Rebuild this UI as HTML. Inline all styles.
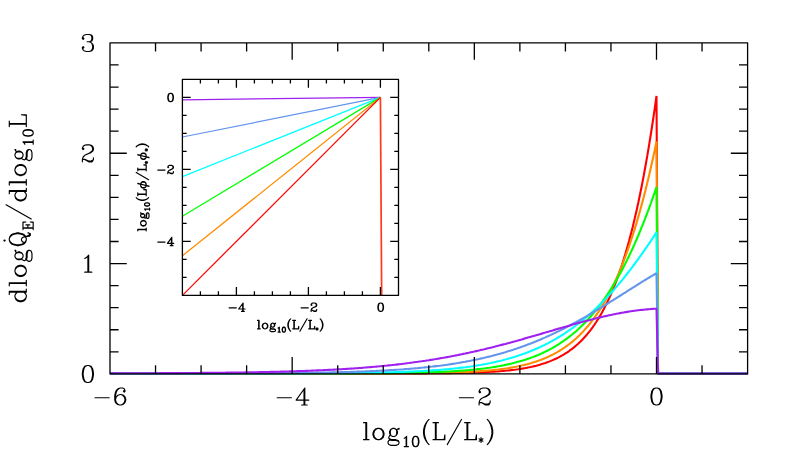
<!DOCTYPE html>
<html><head><meta charset="utf-8"><title>plot</title>
<style>html,body{margin:0;padding:0;background:#fff;font-family:"Liberation Sans",sans-serif;}svg{display:block}</style></head>
<body>
<svg width="789" height="451" viewBox="0 0 789 451">
<rect width="789" height="451" fill="#fff"/>
<polyline fill="none" stroke="#ff0000" stroke-width="2.1" stroke-linejoin="bevel" points="110,373.5 111.82,373.5 113.64,373.5 115.46,373.5 117.29,373.5 119.11,373.5 120.93,373.5 122.75,373.5 124.57,373.5 126.39,373.5 128.22,373.5 130.04,373.5 131.86,373.5 133.68,373.5 135.5,373.5 137.32,373.5 139.15,373.5 140.97,373.5 142.79,373.5 144.61,373.5 146.43,373.5 148.25,373.5 150.08,373.5 151.9,373.5 153.72,373.5 155.54,373.5 157.36,373.5 159.18,373.5 161.01,373.5 162.83,373.5 164.65,373.5 166.47,373.5 168.29,373.5 170.11,373.5 171.94,373.5 173.76,373.5 175.58,373.5 177.4,373.5 179.22,373.5 181.04,373.5 182.87,373.5 184.69,373.5 186.51,373.5 188.33,373.5 190.15,373.5 191.97,373.5 193.8,373.5 195.62,373.5 197.44,373.5 199.26,373.5 201.08,373.5 202.9,373.5 204.73,373.5 206.55,373.5 208.37,373.5 210.19,373.5 212.01,373.5 213.83,373.5 215.66,373.5 217.48,373.5 219.3,373.5 221.12,373.5 222.94,373.5 224.76,373.5 226.59,373.5 228.41,373.5 230.23,373.5 232.05,373.5 233.87,373.5 235.69,373.5 237.52,373.5 239.34,373.5 241.16,373.5 242.98,373.5 244.8,373.5 246.62,373.5 248.45,373.5 250.27,373.5 252.09,373.5 253.91,373.5 255.73,373.5 257.55,373.5 259.38,373.5 261.2,373.5 263.02,373.5 264.84,373.5 266.66,373.5 268.48,373.5 270.31,373.5 272.13,373.5 273.95,373.5 275.77,373.5 277.59,373.5 279.41,373.5 281.24,373.5 283.06,373.5 284.88,373.5 286.7,373.5 288.52,373.5 290.34,373.5 292.17,373.5 293.99,373.5 295.81,373.5 297.63,373.5 299.45,373.5 301.27,373.5 303.1,373.5 304.92,373.5 306.74,373.5 308.56,373.5 310.38,373.5 312.2,373.5 314.03,373.5 315.85,373.5 317.67,373.5 319.49,373.5 321.31,373.5 323.13,373.5 324.96,373.5 326.78,373.5 328.6,373.5 330.42,373.5 332.24,373.5 334.06,373.5 335.89,373.49 337.71,373.49 339.53,373.49 341.35,373.49 343.17,373.49 344.99,373.49 346.82,373.49 348.64,373.49 350.46,373.49 352.28,373.49 354.1,373.49 355.92,373.49 357.75,373.49 359.57,373.49 361.39,373.49 363.21,373.48 365.03,373.48 366.85,373.48 368.68,373.48 370.5,373.48 372.32,373.48 374.14,373.48 375.96,373.48 377.78,373.47 379.61,373.47 381.43,373.47 383.25,373.47 385.07,373.47 386.89,373.46 388.71,373.46 390.54,373.46 392.36,373.45 394.18,373.45 396,373.45 397.82,373.44 399.64,373.44 401.47,373.44 403.29,373.43 405.11,373.43 406.93,373.42 408.75,373.41 410.57,373.41 412.4,373.4 414.22,373.4 416.04,373.39 417.86,373.38 419.68,373.37 421.5,373.36 423.33,373.35 425.15,373.34 426.97,373.33 428.79,373.32 430.61,373.31 432.43,373.29 434.26,373.28 436.08,373.26 437.9,373.25 439.72,373.23 441.54,373.21 443.36,373.19 445.19,373.17 447.01,373.15 448.83,373.12 450.65,373.1 452.47,373.07 454.29,373.04 456.12,373.01 457.94,372.98 459.76,372.94 461.58,372.9 463.4,372.86 465.22,372.82 467.05,372.77 468.87,372.73 470.69,372.67 472.51,372.62 474.33,372.56 476.15,372.5 477.98,372.43 479.8,372.36 481.62,372.28 483.44,372.2 485.26,372.12 487.08,372.02 488.91,371.93 490.73,371.82 492.55,371.71 494.37,371.6 496.19,371.47 498.01,371.34 499.84,371.2 501.66,371.05 503.48,370.89 505.3,370.73 507.12,370.55 508.94,370.36 510.77,370.16 512.59,369.94 514.41,369.72 516.23,369.48 518.05,369.22 519.87,368.95 521.7,368.66 523.52,368.36 525.34,368.04 527.16,367.69 528.98,367.33 530.8,366.95 532.63,366.54 534.45,366.11 536.27,365.65 538.09,365.17 539.91,364.65 541.73,364.11 543.56,363.54 545.38,362.93 547.2,362.29 549.02,361.61 550.84,360.89 552.66,360.13 554.49,359.32 556.31,358.47 558.13,357.58 559.95,356.63 561.77,355.63 563.59,354.57 565.42,353.45 567.24,352.27 569.06,351.02 570.88,349.71 572.7,348.32 574.52,346.86 576.35,345.32 578.17,343.69 579.99,341.98 581.81,340.17 583.63,338.26 585.45,336.25 587.28,334.14 589.1,331.91 590.92,329.57 592.74,327.1 594.56,324.5 596.38,321.77 598.21,318.89 600.03,315.87 601.85,312.68 603.67,309.34 605.49,305.83 607.31,302.13 609.14,298.25 610.96,294.18 612.78,289.89 614.6,285.4 616.42,280.68 618.24,275.73 620.07,270.54 621.89,265.09 623.71,259.38 625.53,253.39 627.35,247.11 629.17,240.53 631,233.64 632.82,226.42 634.64,218.86 636.46,210.95 638.28,202.66 640.1,194 641.93,184.93 643.75,175.45 645.57,165.53 647.39,155.17 649.21,144.34 651.03,133.02 652.86,121.2 654.68,108.86 656.5,95.97 658.05,373.5 747.58,373.5"/>
<polyline fill="none" stroke="#ff8c00" stroke-width="2.1" stroke-linejoin="bevel" points="110,373.5 111.82,373.5 113.64,373.5 115.46,373.5 117.29,373.5 119.11,373.5 120.93,373.5 122.75,373.5 124.57,373.5 126.39,373.5 128.22,373.5 130.04,373.5 131.86,373.5 133.68,373.5 135.5,373.5 137.32,373.5 139.15,373.5 140.97,373.5 142.79,373.5 144.61,373.5 146.43,373.5 148.25,373.5 150.08,373.5 151.9,373.5 153.72,373.5 155.54,373.5 157.36,373.5 159.18,373.5 161.01,373.5 162.83,373.5 164.65,373.5 166.47,373.5 168.29,373.5 170.11,373.5 171.94,373.5 173.76,373.5 175.58,373.5 177.4,373.5 179.22,373.5 181.04,373.5 182.87,373.5 184.69,373.5 186.51,373.5 188.33,373.5 190.15,373.5 191.97,373.5 193.8,373.5 195.62,373.5 197.44,373.5 199.26,373.5 201.08,373.5 202.9,373.5 204.73,373.5 206.55,373.5 208.37,373.5 210.19,373.5 212.01,373.5 213.83,373.5 215.66,373.5 217.48,373.5 219.3,373.5 221.12,373.5 222.94,373.5 224.76,373.5 226.59,373.5 228.41,373.5 230.23,373.5 232.05,373.5 233.87,373.5 235.69,373.5 237.52,373.5 239.34,373.5 241.16,373.5 242.98,373.5 244.8,373.5 246.62,373.5 248.45,373.5 250.27,373.5 252.09,373.5 253.91,373.5 255.73,373.5 257.55,373.5 259.38,373.5 261.2,373.5 263.02,373.5 264.84,373.5 266.66,373.5 268.48,373.5 270.31,373.5 272.13,373.5 273.95,373.5 275.77,373.5 277.59,373.5 279.41,373.5 281.24,373.5 283.06,373.5 284.88,373.5 286.7,373.5 288.52,373.5 290.34,373.5 292.17,373.5 293.99,373.49 295.81,373.49 297.63,373.49 299.45,373.49 301.27,373.49 303.1,373.49 304.92,373.49 306.74,373.49 308.56,373.49 310.38,373.49 312.2,373.49 314.03,373.49 315.85,373.49 317.67,373.49 319.49,373.49 321.31,373.49 323.13,373.49 324.96,373.48 326.78,373.48 328.6,373.48 330.42,373.48 332.24,373.48 334.06,373.48 335.89,373.48 337.71,373.48 339.53,373.48 341.35,373.47 343.17,373.47 344.99,373.47 346.82,373.47 348.64,373.47 350.46,373.46 352.28,373.46 354.1,373.46 355.92,373.46 357.75,373.45 359.57,373.45 361.39,373.45 363.21,373.44 365.03,373.44 366.85,373.44 368.68,373.43 370.5,373.43 372.32,373.43 374.14,373.42 375.96,373.42 377.78,373.41 379.61,373.4 381.43,373.4 383.25,373.39 385.07,373.39 386.89,373.38 388.71,373.37 390.54,373.36 392.36,373.35 394.18,373.35 396,373.34 397.82,373.33 399.64,373.31 401.47,373.3 403.29,373.29 405.11,373.28 406.93,373.26 408.75,373.25 410.57,373.24 412.4,373.22 414.22,373.2 416.04,373.18 417.86,373.16 419.68,373.14 421.5,373.12 423.33,373.1 425.15,373.08 426.97,373.05 428.79,373.02 430.61,373 432.43,372.96 434.26,372.93 436.08,372.9 437.9,372.86 439.72,372.83 441.54,372.79 443.36,372.74 445.19,372.7 447.01,372.65 448.83,372.6 450.65,372.55 452.47,372.49 454.29,372.43 456.12,372.37 457.94,372.31 459.76,372.24 461.58,372.16 463.4,372.09 465.22,372 467.05,371.92 468.87,371.83 470.69,371.73 472.51,371.63 474.33,371.52 476.15,371.41 477.98,371.29 479.8,371.17 481.62,371.04 483.44,370.9 485.26,370.75 487.08,370.6 488.91,370.43 490.73,370.26 492.55,370.08 494.37,369.89 496.19,369.69 498.01,369.48 499.84,369.26 501.66,369.02 503.48,368.78 505.3,368.52 507.12,368.25 508.94,367.96 510.77,367.66 512.59,367.35 514.41,367.01 516.23,366.66 518.05,366.3 519.87,365.91 521.7,365.51 523.52,365.08 525.34,364.63 527.16,364.17 528.98,363.67 530.8,363.16 532.63,362.61 534.45,362.05 536.27,361.45 538.09,360.82 539.91,360.17 541.73,359.48 543.56,358.76 545.38,358 547.2,357.21 549.02,356.38 550.84,355.51 552.66,354.6 554.49,353.65 556.31,352.66 558.13,351.61 559.95,350.52 561.77,349.38 563.59,348.19 565.42,346.94 567.24,345.63 569.06,344.27 570.88,342.84 572.7,341.35 574.52,339.8 576.35,338.17 578.17,336.47 579.99,334.7 581.81,332.85 583.63,330.92 585.45,328.91 587.28,326.81 589.1,324.62 590.92,322.34 592.74,319.96 594.56,317.48 596.38,314.9 598.21,312.21 600.03,309.4 601.85,306.49 603.67,303.45 605.49,300.29 607.31,297 609.14,293.58 610.96,290.02 612.78,286.32 614.6,282.48 616.42,278.49 618.24,274.34 620.07,270.03 621.89,265.55 623.71,260.9 625.53,256.08 627.35,251.08 629.17,245.88 631,240.5 632.82,234.92 634.64,229.13 636.46,223.13 638.28,216.92 640.1,210.48 641.93,203.82 643.75,196.92 645.57,189.78 647.39,182.39 649.21,174.75 651.03,166.85 652.86,158.68 654.68,150.23 656.5,141.51 658.05,373.5 747.58,373.5"/>
<polyline fill="none" stroke="#00ff00" stroke-width="2.1" stroke-linejoin="bevel" points="110,373.5 111.82,373.5 113.64,373.5 115.46,373.5 117.29,373.5 119.11,373.5 120.93,373.5 122.75,373.5 124.57,373.5 126.39,373.5 128.22,373.5 130.04,373.5 131.86,373.5 133.68,373.5 135.5,373.5 137.32,373.5 139.15,373.5 140.97,373.5 142.79,373.5 144.61,373.5 146.43,373.5 148.25,373.5 150.08,373.5 151.9,373.5 153.72,373.5 155.54,373.5 157.36,373.5 159.18,373.5 161.01,373.5 162.83,373.5 164.65,373.5 166.47,373.5 168.29,373.5 170.11,373.5 171.94,373.5 173.76,373.5 175.58,373.5 177.4,373.5 179.22,373.5 181.04,373.5 182.87,373.5 184.69,373.5 186.51,373.5 188.33,373.5 190.15,373.5 191.97,373.5 193.8,373.5 195.62,373.5 197.44,373.5 199.26,373.5 201.08,373.5 202.9,373.5 204.73,373.5 206.55,373.5 208.37,373.5 210.19,373.5 212.01,373.5 213.83,373.5 215.66,373.5 217.48,373.5 219.3,373.5 221.12,373.5 222.94,373.5 224.76,373.5 226.59,373.5 228.41,373.5 230.23,373.5 232.05,373.5 233.87,373.5 235.69,373.5 237.52,373.5 239.34,373.49 241.16,373.49 242.98,373.49 244.8,373.49 246.62,373.49 248.45,373.49 250.27,373.49 252.09,373.49 253.91,373.49 255.73,373.49 257.55,373.49 259.38,373.49 261.2,373.49 263.02,373.49 264.84,373.49 266.66,373.49 268.48,373.49 270.31,373.49 272.13,373.49 273.95,373.49 275.77,373.48 277.59,373.48 279.41,373.48 281.24,373.48 283.06,373.48 284.88,373.48 286.7,373.48 288.52,373.48 290.34,373.48 292.17,373.48 293.99,373.47 295.81,373.47 297.63,373.47 299.45,373.47 301.27,373.47 303.1,373.47 304.92,373.46 306.74,373.46 308.56,373.46 310.38,373.46 312.2,373.46 314.03,373.45 315.85,373.45 317.67,373.45 319.49,373.44 321.31,373.44 323.13,373.44 324.96,373.44 326.78,373.43 328.6,373.43 330.42,373.42 332.24,373.42 334.06,373.42 335.89,373.41 337.71,373.41 339.53,373.4 341.35,373.4 343.17,373.39 344.99,373.38 346.82,373.38 348.64,373.37 350.46,373.36 352.28,373.36 354.1,373.35 355.92,373.34 357.75,373.33 359.57,373.32 361.39,373.31 363.21,373.3 365.03,373.29 366.85,373.28 368.68,373.27 370.5,373.26 372.32,373.25 374.14,373.23 375.96,373.22 377.78,373.2 379.61,373.19 381.43,373.17 383.25,373.15 385.07,373.14 386.89,373.12 388.71,373.1 390.54,373.08 392.36,373.05 394.18,373.03 396,373.01 397.82,372.98 399.64,372.95 401.47,372.93 403.29,372.9 405.11,372.87 406.93,372.83 408.75,372.8 410.57,372.76 412.4,372.72 414.22,372.68 416.04,372.64 417.86,372.6 419.68,372.55 421.5,372.51 423.33,372.46 425.15,372.4 426.97,372.35 428.79,372.29 430.61,372.23 432.43,372.16 434.26,372.1 436.08,372.03 437.9,371.95 439.72,371.88 441.54,371.8 443.36,371.71 445.19,371.63 447.01,371.53 448.83,371.44 450.65,371.34 452.47,371.23 454.29,371.12 456.12,371 457.94,370.88 459.76,370.75 461.58,370.62 463.4,370.48 465.22,370.34 467.05,370.19 468.87,370.03 470.69,369.86 472.51,369.69 474.33,369.51 476.15,369.32 477.98,369.12 479.8,368.92 481.62,368.7 483.44,368.48 485.26,368.25 487.08,368 488.91,367.75 490.73,367.48 492.55,367.2 494.37,366.91 496.19,366.61 498.01,366.3 499.84,365.97 501.66,365.63 503.48,365.27 505.3,364.9 507.12,364.52 508.94,364.11 510.77,363.7 512.59,363.26 514.41,362.81 516.23,362.33 518.05,361.84 519.87,361.33 521.7,360.8 523.52,360.25 525.34,359.67 527.16,359.07 528.98,358.45 530.8,357.8 532.63,357.13 534.45,356.44 536.27,355.71 538.09,354.96 539.91,354.18 541.73,353.37 543.56,352.53 545.38,351.66 547.2,350.75 549.02,349.81 550.84,348.84 552.66,347.83 554.49,346.78 556.31,345.7 558.13,344.57 559.95,343.41 561.77,342.21 563.59,340.96 565.42,339.67 567.24,338.33 569.06,336.94 570.88,335.51 572.7,334.03 574.52,332.5 576.35,330.92 578.17,329.28 579.99,327.59 581.81,325.84 583.63,324.04 585.45,322.17 587.28,320.25 589.1,318.26 590.92,316.22 592.74,314.1 594.56,311.92 596.38,309.67 598.21,307.35 600.03,304.96 601.85,302.5 603.67,299.96 605.49,297.35 607.31,294.66 609.14,291.89 610.96,289.04 612.78,286.1 614.6,283.09 616.42,279.99 618.24,276.8 620.07,273.52 621.89,270.15 623.71,266.69 625.53,263.13 627.35,259.48 629.17,255.74 631,251.9 632.82,247.95 634.64,243.91 636.46,239.76 638.28,235.51 640.1,231.16 641.93,226.7 643.75,222.13 645.57,217.46 647.39,212.67 649.21,207.77 651.03,202.76 652.86,197.64 654.68,192.4 656.5,187.05 658.05,373.5 747.58,373.5"/>
<polyline fill="none" stroke="#00ffff" stroke-width="2.1" stroke-linejoin="bevel" points="110,373.5 111.82,373.5 113.64,373.5 115.46,373.5 117.29,373.5 119.11,373.5 120.93,373.5 122.75,373.5 124.57,373.5 126.39,373.5 128.22,373.5 130.04,373.5 131.86,373.5 133.68,373.5 135.5,373.5 137.32,373.5 139.15,373.5 140.97,373.5 142.79,373.5 144.61,373.5 146.43,373.5 148.25,373.5 150.08,373.5 151.9,373.5 153.72,373.5 155.54,373.5 157.36,373.5 159.18,373.5 161.01,373.5 162.83,373.5 164.65,373.49 166.47,373.49 168.29,373.49 170.11,373.49 171.94,373.49 173.76,373.49 175.58,373.49 177.4,373.49 179.22,373.49 181.04,373.49 182.87,373.49 184.69,373.49 186.51,373.49 188.33,373.49 190.15,373.49 191.97,373.49 193.8,373.49 195.62,373.49 197.44,373.49 199.26,373.49 201.08,373.49 202.9,373.49 204.73,373.49 206.55,373.49 208.37,373.48 210.19,373.48 212.01,373.48 213.83,373.48 215.66,373.48 217.48,373.48 219.3,373.48 221.12,373.48 222.94,373.48 224.76,373.48 226.59,373.48 228.41,373.48 230.23,373.47 232.05,373.47 233.87,373.47 235.69,373.47 237.52,373.47 239.34,373.47 241.16,373.47 242.98,373.46 244.8,373.46 246.62,373.46 248.45,373.46 250.27,373.46 252.09,373.46 253.91,373.45 255.73,373.45 257.55,373.45 259.38,373.45 261.2,373.44 263.02,373.44 264.84,373.44 266.66,373.44 268.48,373.43 270.31,373.43 272.13,373.43 273.95,373.42 275.77,373.42 277.59,373.42 279.41,373.41 281.24,373.41 283.06,373.41 284.88,373.4 286.7,373.4 288.52,373.39 290.34,373.39 292.17,373.38 293.99,373.38 295.81,373.37 297.63,373.36 299.45,373.36 301.27,373.35 303.1,373.35 304.92,373.34 306.74,373.33 308.56,373.32 310.38,373.32 312.2,373.31 314.03,373.3 315.85,373.29 317.67,373.28 319.49,373.27 321.31,373.26 323.13,373.25 324.96,373.24 326.78,373.23 328.6,373.21 330.42,373.2 332.24,373.19 334.06,373.17 335.89,373.16 337.71,373.14 339.53,373.13 341.35,373.11 343.17,373.09 344.99,373.08 346.82,373.06 348.64,373.04 350.46,373.02 352.28,373 354.1,372.97 355.92,372.95 357.75,372.93 359.57,372.9 361.39,372.87 363.21,372.85 365.03,372.82 366.85,372.79 368.68,372.76 370.5,372.73 372.32,372.69 374.14,372.66 375.96,372.62 377.78,372.58 379.61,372.54 381.43,372.5 383.25,372.46 385.07,372.41 386.89,372.37 388.71,372.32 390.54,372.27 392.36,372.22 394.18,372.16 396,372.11 397.82,372.05 399.64,371.99 401.47,371.92 403.29,371.86 405.11,371.79 406.93,371.72 408.75,371.64 410.57,371.56 412.4,371.48 414.22,371.4 416.04,371.31 417.86,371.22 419.68,371.13 421.5,371.03 423.33,370.93 425.15,370.82 426.97,370.72 428.79,370.6 430.61,370.48 432.43,370.36 434.26,370.24 436.08,370.1 437.9,369.97 439.72,369.83 441.54,369.68 443.36,369.53 445.19,369.37 447.01,369.21 448.83,369.04 450.65,368.86 452.47,368.68 454.29,368.49 456.12,368.29 457.94,368.09 459.76,367.88 461.58,367.66 463.4,367.44 465.22,367.21 467.05,366.97 468.87,366.72 470.69,366.46 472.51,366.19 474.33,365.91 476.15,365.63 477.98,365.33 479.8,365.03 481.62,364.71 483.44,364.38 485.26,364.05 487.08,363.7 488.91,363.34 490.73,362.97 492.55,362.58 494.37,362.19 496.19,361.78 498.01,361.35 499.84,360.92 501.66,360.47 503.48,360 505.3,359.52 507.12,359.03 508.94,358.52 510.77,358 512.59,357.45 514.41,356.9 516.23,356.32 518.05,355.73 519.87,355.12 521.7,354.49 523.52,353.85 525.34,353.18 527.16,352.5 528.98,351.79 530.8,351.07 532.63,350.33 534.45,349.56 536.27,348.77 538.09,347.96 539.91,347.13 541.73,346.28 543.56,345.4 545.38,344.5 547.2,343.58 549.02,342.63 550.84,341.65 552.66,340.65 554.49,339.63 556.31,338.58 558.13,337.5 559.95,336.39 561.77,335.26 563.59,334.1 565.42,332.91 567.24,331.69 569.06,330.45 570.88,329.17 572.7,327.86 574.52,326.53 576.35,325.16 578.17,323.76 579.99,322.34 581.81,320.88 583.63,319.38 585.45,317.86 587.28,316.3 589.1,314.71 590.92,313.09 592.74,311.44 594.56,309.75 596.38,308.02 598.21,306.27 600.03,304.48 601.85,302.65 603.67,300.79 605.49,298.9 607.31,296.97 609.14,295.01 610.96,293.01 612.78,290.98 614.6,288.92 616.42,286.82 618.24,284.68 620.07,282.51 621.89,280.31 623.71,278.07 625.53,275.8 627.35,273.5 629.17,271.16 631,268.79 632.82,266.38 634.64,263.95 636.46,261.48 638.28,258.98 640.1,256.45 641.93,253.89 643.75,251.29 645.57,248.67 647.39,246.02 649.21,243.35 651.03,240.64 652.86,237.91 654.68,235.15 656.5,232.37 658.05,373.5 747.58,373.5"/>
<polyline fill="none" stroke="#6495ed" stroke-width="2.1" stroke-linejoin="bevel" points="110,373.48 111.82,373.48 113.64,373.48 115.46,373.48 117.29,373.48 119.11,373.48 120.93,373.48 122.75,373.48 124.57,373.48 126.39,373.48 128.22,373.48 130.04,373.48 131.86,373.48 133.68,373.48 135.5,373.47 137.32,373.47 139.15,373.47 140.97,373.47 142.79,373.47 144.61,373.47 146.43,373.47 148.25,373.47 150.08,373.47 151.9,373.47 153.72,373.46 155.54,373.46 157.36,373.46 159.18,373.46 161.01,373.46 162.83,373.46 164.65,373.46 166.47,373.45 168.29,373.45 170.11,373.45 171.94,373.45 173.76,373.45 175.58,373.45 177.4,373.44 179.22,373.44 181.04,373.44 182.87,373.44 184.69,373.43 186.51,373.43 188.33,373.43 190.15,373.43 191.97,373.43 193.8,373.42 195.62,373.42 197.44,373.42 199.26,373.41 201.08,373.41 202.9,373.41 204.73,373.4 206.55,373.4 208.37,373.4 210.19,373.39 212.01,373.39 213.83,373.39 215.66,373.38 217.48,373.38 219.3,373.37 221.12,373.37 222.94,373.36 224.76,373.36 226.59,373.35 228.41,373.35 230.23,373.34 232.05,373.34 233.87,373.33 235.69,373.32 237.52,373.32 239.34,373.31 241.16,373.3 242.98,373.3 244.8,373.29 246.62,373.28 248.45,373.27 250.27,373.27 252.09,373.26 253.91,373.25 255.73,373.24 257.55,373.23 259.38,373.22 261.2,373.21 263.02,373.2 264.84,373.19 266.66,373.18 268.48,373.17 270.31,373.15 272.13,373.14 273.95,373.13 275.77,373.11 277.59,373.1 279.41,373.09 281.24,373.07 283.06,373.06 284.88,373.04 286.7,373.02 288.52,373.01 290.34,372.99 292.17,372.97 293.99,372.95 295.81,372.93 297.63,372.91 299.45,372.89 301.27,372.87 303.1,372.84 304.92,372.82 306.74,372.8 308.56,372.77 310.38,372.75 312.2,372.72 314.03,372.69 315.85,372.66 317.67,372.63 319.49,372.6 321.31,372.57 323.13,372.54 324.96,372.5 326.78,372.47 328.6,372.43 330.42,372.39 332.24,372.36 334.06,372.31 335.89,372.27 337.71,372.23 339.53,372.19 341.35,372.14 343.17,372.09 344.99,372.04 346.82,371.99 348.64,371.94 350.46,371.89 352.28,371.83 354.1,371.77 355.92,371.71 357.75,371.65 359.57,371.59 361.39,371.52 363.21,371.46 365.03,371.39 366.85,371.31 368.68,371.24 370.5,371.16 372.32,371.08 374.14,371 375.96,370.92 377.78,370.83 379.61,370.74 381.43,370.65 383.25,370.56 385.07,370.46 386.89,370.36 388.71,370.25 390.54,370.14 392.36,370.03 394.18,369.92 396,369.8 397.82,369.68 399.64,369.56 401.47,369.43 403.29,369.3 405.11,369.16 406.93,369.02 408.75,368.88 410.57,368.73 412.4,368.57 414.22,368.42 416.04,368.25 417.86,368.09 419.68,367.92 421.5,367.74 423.33,367.56 425.15,367.37 426.97,367.18 428.79,366.99 430.61,366.78 432.43,366.58 434.26,366.36 436.08,366.14 437.9,365.92 439.72,365.69 441.54,365.45 443.36,365.2 445.19,364.95 447.01,364.7 448.83,364.43 450.65,364.16 452.47,363.88 454.29,363.6 456.12,363.31 457.94,363.01 459.76,362.7 461.58,362.39 463.4,362.06 465.22,361.73 467.05,361.39 468.87,361.05 470.69,360.69 472.51,360.33 474.33,359.95 476.15,359.57 477.98,359.18 479.8,358.78 481.62,358.37 483.44,357.96 485.26,357.53 487.08,357.09 488.91,356.64 490.73,356.19 492.55,355.72 494.37,355.24 496.19,354.76 498.01,354.26 499.84,353.75 501.66,353.23 503.48,352.7 505.3,352.16 507.12,351.61 508.94,351.05 510.77,350.47 512.59,349.89 514.41,349.29 516.23,348.68 518.05,348.06 519.87,347.43 521.7,346.79 523.52,346.14 525.34,345.47 527.16,344.79 528.98,344.1 530.8,343.4 532.63,342.68 534.45,341.96 536.27,341.22 538.09,340.47 539.91,339.71 541.73,338.93 543.56,338.14 545.38,337.35 547.2,336.53 549.02,335.71 550.84,334.88 552.66,334.03 554.49,333.17 556.31,332.3 558.13,331.42 559.95,330.52 561.77,329.62 563.59,328.7 565.42,327.77 567.24,326.83 569.06,325.88 570.88,324.92 572.7,323.95 574.52,322.96 576.35,321.97 578.17,320.97 579.99,319.95 581.81,318.93 583.63,317.9 585.45,316.86 587.28,315.8 589.1,314.75 590.92,313.68 592.74,312.6 594.56,311.52 596.38,310.43 598.21,309.33 600.03,308.22 601.85,307.11 603.67,305.99 605.49,304.87 607.31,303.74 609.14,302.61 610.96,301.47 612.78,300.33 614.6,299.19 616.42,298.04 618.24,296.89 620.07,295.74 621.89,294.59 623.71,293.43 625.53,292.28 627.35,291.13 629.17,289.97 631,288.82 632.82,287.67 634.64,286.52 636.46,285.38 638.28,284.24 640.1,283.1 641.93,281.97 643.75,280.85 645.57,279.73 647.39,278.62 649.21,277.51 651.03,276.41 652.86,275.33 654.68,274.25 656.5,273.18 658.05,373.5 747.58,373.5"/>
<polyline fill="none" stroke="#a020f0" stroke-width="2.1" stroke-linejoin="bevel" points="110,373.34 111.82,373.33 113.64,373.33 115.46,373.32 117.29,373.32 119.11,373.32 120.93,373.31 122.75,373.31 124.57,373.3 126.39,373.3 128.22,373.29 130.04,373.29 131.86,373.28 133.68,373.28 135.5,373.27 137.32,373.26 139.15,373.26 140.97,373.25 142.79,373.25 144.61,373.24 146.43,373.23 148.25,373.23 150.08,373.22 151.9,373.21 153.72,373.21 155.54,373.2 157.36,373.19 159.18,373.18 161.01,373.17 162.83,373.17 164.65,373.16 166.47,373.15 168.29,373.14 170.11,373.13 171.94,373.12 173.76,373.11 175.58,373.1 177.4,373.09 179.22,373.08 181.04,373.07 182.87,373.06 184.69,373.04 186.51,373.03 188.33,373.02 190.15,373.01 191.97,372.99 193.8,372.98 195.62,372.97 197.44,372.95 199.26,372.94 201.08,372.92 202.9,372.91 204.73,372.89 206.55,372.88 208.37,372.86 210.19,372.84 212.01,372.82 213.83,372.81 215.66,372.79 217.48,372.77 219.3,372.75 221.12,372.73 222.94,372.71 224.76,372.69 226.59,372.66 228.41,372.64 230.23,372.62 232.05,372.6 233.87,372.57 235.69,372.55 237.52,372.52 239.34,372.49 241.16,372.47 242.98,372.44 244.8,372.41 246.62,372.38 248.45,372.35 250.27,372.32 252.09,372.29 253.91,372.26 255.73,372.22 257.55,372.19 259.38,372.15 261.2,372.12 263.02,372.08 264.84,372.04 266.66,372 268.48,371.96 270.31,371.92 272.13,371.88 273.95,371.84 275.77,371.79 277.59,371.75 279.41,371.7 281.24,371.65 283.06,371.6 284.88,371.55 286.7,371.5 288.52,371.45 290.34,371.39 292.17,371.34 293.99,371.28 295.81,371.22 297.63,371.16 299.45,371.1 301.27,371.04 303.1,370.97 304.92,370.91 306.74,370.84 308.56,370.77 310.38,370.7 312.2,370.62 314.03,370.55 315.85,370.47 317.67,370.39 319.49,370.31 321.31,370.23 323.13,370.15 324.96,370.06 326.78,369.97 328.6,369.88 330.42,369.79 332.24,369.69 334.06,369.59 335.89,369.49 337.71,369.39 339.53,369.29 341.35,369.18 343.17,369.07 344.99,368.96 346.82,368.84 348.64,368.72 350.46,368.6 352.28,368.48 354.1,368.36 355.92,368.23 357.75,368.1 359.57,367.96 361.39,367.83 363.21,367.69 365.03,367.54 366.85,367.4 368.68,367.25 370.5,367.09 372.32,366.94 374.14,366.78 375.96,366.62 377.78,366.45 379.61,366.28 381.43,366.11 383.25,365.93 385.07,365.75 386.89,365.57 388.71,365.38 390.54,365.19 392.36,364.99 394.18,364.79 396,364.59 397.82,364.38 399.64,364.17 401.47,363.95 403.29,363.73 405.11,363.51 406.93,363.28 408.75,363.05 410.57,362.81 412.4,362.57 414.22,362.32 416.04,362.07 417.86,361.82 419.68,361.56 421.5,361.3 423.33,361.03 425.15,360.76 426.97,360.48 428.79,360.2 430.61,359.91 432.43,359.62 434.26,359.32 436.08,359.02 437.9,358.71 439.72,358.4 441.54,358.08 443.36,357.76 445.19,357.43 447.01,357.1 448.83,356.77 450.65,356.42 452.47,356.08 454.29,355.73 456.12,355.37 457.94,355.01 459.76,354.64 461.58,354.27 463.4,353.89 465.22,353.51 467.05,353.12 468.87,352.73 470.69,352.33 472.51,351.93 474.33,351.53 476.15,351.11 477.98,350.7 479.8,350.28 481.62,349.85 483.44,349.42 485.26,348.98 487.08,348.54 488.91,348.1 490.73,347.65 492.55,347.2 494.37,346.74 496.19,346.27 498.01,345.81 499.84,345.34 501.66,344.86 503.48,344.38 505.3,343.9 507.12,343.41 508.94,342.92 510.77,342.43 512.59,341.93 514.41,341.43 516.23,340.93 518.05,340.42 519.87,339.91 521.7,339.4 523.52,338.88 525.34,338.36 527.16,337.84 528.98,337.32 530.8,336.8 532.63,336.27 534.45,335.74 536.27,335.21 538.09,334.68 539.91,334.15 541.73,333.62 543.56,333.08 545.38,332.55 547.2,332.01 549.02,331.48 550.84,330.94 552.66,330.41 554.49,329.87 556.31,329.34 558.13,328.81 559.95,328.28 561.77,327.75 563.59,327.22 565.42,326.69 567.24,326.17 569.06,325.65 570.88,325.13 572.7,324.61 574.52,324.1 576.35,323.59 578.17,323.09 579.99,322.58 581.81,322.09 583.63,321.59 585.45,321.11 587.28,320.62 589.1,320.15 590.92,319.67 592.74,319.21 594.56,318.75 596.38,318.3 598.21,317.85 600.03,317.41 601.85,316.98 603.67,316.55 605.49,316.14 607.31,315.73 609.14,315.33 610.96,314.94 612.78,314.56 614.6,314.18 616.42,313.82 618.24,313.47 620.07,313.12 621.89,312.79 623.71,312.47 625.53,312.15 627.35,311.85 629.17,311.56 631,311.29 632.82,311.02 634.64,310.76 636.46,310.52 638.28,310.29 640.1,310.07 641.93,309.87 643.75,309.68 645.57,309.5 647.39,309.33 649.21,309.18 651.03,309.04 652.86,308.92 654.68,308.81 656.5,308.71 658.05,373.5 747.58,373.5"/>
<path d="M155.54 373.9V365.3 M155.54 42.9V51.5 M201.08 373.9V365.3 M201.08 42.9V51.5 M246.62 373.9V365.3 M246.62 42.9V51.5 M292.17 373.9V357.1 M292.17 42.9V59.7 M337.71 373.9V365.3 M337.71 42.9V51.5 M383.25 373.9V365.3 M383.25 42.9V51.5 M428.79 373.9V365.3 M428.79 42.9V51.5 M474.33 373.9V357.1 M474.33 42.9V59.7 M519.88 373.9V365.3 M519.88 42.9V51.5 M565.42 373.9V365.3 M565.42 42.9V51.5 M610.96 373.9V365.3 M610.96 42.9V51.5 M656.5 373.9V357.1 M656.5 42.9V59.7 M702.04 373.9V365.3 M702.04 42.9V51.5 M110 351.83H118.6 M747.6 351.83H739 M110 329.77H118.6 M747.6 329.77H739 M110 307.7H118.6 M747.6 307.7H739 M110 285.63H118.6 M747.6 285.63H739 M110 263.57H126.8 M747.6 263.57H730.8 M110 241.5H118.6 M747.6 241.5H739 M110 219.43H118.6 M747.6 219.43H739 M110 197.37H118.6 M747.6 197.37H739 M110 175.3H118.6 M747.6 175.3H739 M110 153.23H126.8 M747.6 153.23H730.8 M110 131.17H118.6 M747.6 131.17H739 M110 109.1H118.6 M747.6 109.1H739 M110 87.03H118.6 M747.6 87.03H739 M110 64.97H118.6 M747.6 64.97H739" stroke="#000" stroke-width="1.3" fill="none" stroke-linejoin="round"/>
<rect x="110" y="42.9" width="637.6" height="331" stroke="#000" stroke-width="1.3" fill="none" stroke-linejoin="round"/>
<rect x="182.4" y="79.4" width="216.1" height="216" fill="#fff" stroke="none"/>
<clipPath id="ic"><rect x="182.4" y="79.4" width="216.1" height="216"/></clipPath>
<g clip-path="url(#ic)">
<polyline fill="none" stroke="#a020f0" stroke-width="1.25" points="182.4,99.88 380.4,97.4"/>
<polyline fill="none" stroke="#6495ed" stroke-width="1.25" points="182.4,137 380.4,97.4"/>
<polyline fill="none" stroke="#00ffff" stroke-width="1.25" points="182.4,176.6 380.4,97.4"/>
<polyline fill="none" stroke="#00ff00" stroke-width="1.25" points="182.4,216.2 380.4,97.4"/>
<polyline fill="none" stroke="#ff8c00" stroke-width="1.25" points="182.4,255.8 380.4,97.4"/>
<polyline fill="none" stroke="#ff0000" stroke-width="1.25" points="182.4,295.4 380.4,97.4"/>
<path d="M380.4 97.4L381.66 295.9" stroke="#ff3a1a" stroke-width="1.7" fill="none"/>
</g>
<path d="M200.4 295.4V291.2 M200.4 79.4V83.6 M182.4 277.4H186.6 M398.5 277.4H394.3 M218.4 295.4V291.2 M218.4 79.4V83.6 M182.4 259.4H186.6 M398.5 259.4H394.3 M236.4 295.4V287.1 M236.4 79.4V87.7 M182.4 241.4H190.7 M398.5 241.4H390.2 M254.4 295.4V291.2 M254.4 79.4V83.6 M182.4 223.4H186.6 M398.5 223.4H394.3 M272.4 295.4V291.2 M272.4 79.4V83.6 M182.4 205.4H186.6 M398.5 205.4H394.3 M290.4 295.4V291.2 M290.4 79.4V83.6 M182.4 187.4H186.6 M398.5 187.4H394.3 M308.4 295.4V287.1 M308.4 79.4V87.7 M182.4 169.4H190.7 M398.5 169.4H390.2 M326.4 295.4V291.2 M326.4 79.4V83.6 M182.4 151.4H186.6 M398.5 151.4H394.3 M344.4 295.4V291.2 M344.4 79.4V83.6 M182.4 133.4H186.6 M398.5 133.4H394.3 M362.4 295.4V291.2 M362.4 79.4V83.6 M182.4 115.4H186.6 M398.5 115.4H394.3 M380.4 295.4V287.1 M380.4 79.4V87.7 M182.4 97.4H190.7 M398.5 97.4H390.2" stroke="#000" stroke-width="1.3" fill="none" stroke-linejoin="round"/>
<rect x="182.4" y="79.4" width="216.1" height="216" stroke="#000" stroke-width="1.3" fill="none" stroke-linejoin="round"/>
<g transform="translate(110 405) scale(0.79 0.81) translate(-23 0)"><path d="M4 -9 L22 -9 M41 -18 L40 -17 L41 -16 L42 -17 L42 -18 L41 -20 L39 -21 L36 -21 L33 -20 L31 -18 L30 -16 L29 -12 L29 -6 L30 -3 L32 -1 L35 0 L37 0 L40 -1 L42 -3 L43 -6 L43 -7 L42 -10 L40 -12 L37 -13 L36 -13 L33 -12 L31 -10 L30 -7 M36 -21 L34 -20 L32 -18 L31 -16 L30 -12 L30 -6 L31 -3 L33 -1 L35 0 M37 0 L39 -1 L41 -3 L42 -6 L42 -7 L41 -10 L39 -12 L37 -13" fill="none" stroke="#000" stroke-width="1.43" stroke-linecap="round" stroke-linejoin="round"/></g>
<g transform="translate(292.17 405) scale(0.79 0.81) translate(-23 0)"><path d="M4 -9 L22 -9 M38 -19 L38 0 M39 -21 L39 0 M39 -21 L28 -6 L44 -6 M35 0 L42 0" fill="none" stroke="#000" stroke-width="1.43" stroke-linecap="round" stroke-linejoin="round"/></g>
<g transform="translate(474.33 405) scale(0.79 0.81) translate(-23 0)"><path d="M4 -9 L22 -9 M30 -17 L31 -16 L30 -15 L29 -16 L29 -17 L30 -19 L31 -20 L34 -21 L38 -21 L41 -20 L42 -19 L43 -17 L43 -15 L42 -13 L39 -11 L34 -9 L32 -8 L30 -6 L29 -3 L29 0 M38 -21 L40 -20 L41 -19 L42 -17 L42 -15 L41 -13 L38 -11 L34 -9 M29 -2 L30 -3 L32 -3 L37 -1 L40 -1 L42 -2 L43 -3 M32 -3 L37 0 L41 0 L42 -1 L43 -3 L43 -5" fill="none" stroke="#000" stroke-width="1.43" stroke-linecap="round" stroke-linejoin="round"/></g>
<g transform="translate(656.5 405) scale(0.79 0.81) translate(-10 0)"><path d="M9 -21 L6 -20 L4 -17 L3 -12 L3 -9 L4 -4 L6 -1 L9 0 L11 0 L14 -1 L16 -4 L17 -9 L17 -12 L16 -17 L14 -20 L11 -21 L9 -21 M9 -21 L7 -20 L6 -19 L5 -17 L4 -12 L4 -9 L5 -4 L6 -2 L7 -1 L9 0 M11 0 L13 -1 L14 -2 L15 -4 L16 -9 L16 -12 L15 -17 L14 -19 L13 -20 L11 -21" fill="none" stroke="#000" stroke-width="1.43" stroke-linecap="round" stroke-linejoin="round"/></g>
<g transform="translate(95.8 382.5) scale(0.79 0.81) translate(-20 0)"><path d="M9 -21 L6 -20 L4 -17 L3 -12 L3 -9 L4 -4 L6 -1 L9 0 L11 0 L14 -1 L16 -4 L17 -9 L17 -12 L16 -17 L14 -20 L11 -21 L9 -21 M9 -21 L7 -20 L6 -19 L5 -17 L4 -12 L4 -9 L5 -4 L6 -2 L7 -1 L9 0 M11 0 L13 -1 L14 -2 L15 -4 L16 -9 L16 -12 L15 -17 L14 -19 L13 -20 L11 -21" fill="none" stroke="#000" stroke-width="1.43" stroke-linecap="round" stroke-linejoin="round"/></g>
<g transform="translate(95.8 272.17) scale(0.79 0.81) translate(-20 0)"><path d="M6 -17 L8 -18 L11 -21 L11 0 M10 -20 L10 0 M6 0 L15 0" fill="none" stroke="#000" stroke-width="1.43" stroke-linecap="round" stroke-linejoin="round"/></g>
<g transform="translate(95.8 161.83) scale(0.79 0.81) translate(-20 0)"><path d="M4 -17 L5 -16 L4 -15 L3 -16 L3 -17 L4 -19 L5 -20 L8 -21 L12 -21 L15 -20 L16 -19 L17 -17 L17 -15 L16 -13 L13 -11 L8 -9 L6 -8 L4 -6 L3 -3 L3 0 M12 -21 L14 -20 L15 -19 L16 -17 L16 -15 L15 -13 L12 -11 L8 -9 M3 -2 L4 -3 L6 -3 L11 -1 L14 -1 L16 -2 L17 -3 M6 -3 L11 0 L15 0 L16 -1 L17 -3 L17 -5" fill="none" stroke="#000" stroke-width="1.43" stroke-linecap="round" stroke-linejoin="round"/></g>
<g transform="translate(95.8 51.5) scale(0.79 0.81) translate(-20 0)"><path d="M4 -17 L5 -16 L4 -15 L3 -16 L3 -17 L4 -19 L5 -20 L8 -21 L12 -21 L15 -20 L16 -18 L16 -15 L15 -13 L12 -12 L9 -12 M12 -21 L14 -20 L15 -18 L15 -15 L14 -13 L12 -12 M12 -12 L14 -11 L16 -9 L17 -7 L17 -4 L16 -2 L15 -1 L12 0 L8 0 L5 -1 L4 -2 L3 -4 L3 -5 L4 -6 L5 -5 L4 -4 M15 -10 L16 -7 L16 -4 L15 -2 L14 -1 L12 0" fill="none" stroke="#000" stroke-width="1.43" stroke-linecap="round" stroke-linejoin="round"/></g>
<g transform="translate(428.9 439.7) scale(0.79 0.81) translate(-84.8 0)"><path d="M5 -21 L5 0 M6 -21 L6 0 M2 -21 L6 -21 M2 0 L9 0 M20 -14 L17 -13 L15 -11 L14 -8 L14 -6 L15 -3 L17 -1 L20 0 L22 0 L25 -1 L27 -3 L28 -6 L28 -8 L27 -11 L25 -13 L22 -14 L20 -14 M20 -14 L18 -13 L16 -11 L15 -8 L15 -6 L16 -3 L18 -1 L20 0 M22 0 L24 -1 L26 -3 L27 -6 L27 -8 L26 -11 L24 -13 L22 -14 M39 -14 L37 -13 L36 -12 L35 -10 L35 -8 L36 -6 L37 -5 L39 -4 L41 -4 L43 -5 L44 -6 L45 -8 L45 -10 L44 -12 L43 -13 L41 -14 L39 -14 M37 -13 L36 -11 L36 -7 L37 -5 M43 -5 L44 -7 L44 -11 L43 -13 M44 -12 L45 -13 L47 -14 L47 -13 L45 -13 M36 -6 L35 -5 L34 -3 L34 -2 L35 0 L38 1 L43 1 L46 2 L47 3 M34 -2 L35 -1 L38 0 L43 0 L46 1 L47 3 L47 4 L46 6 L43 7 L37 7 L34 6 L33 4 L33 3 L34 1 L37 0 M53.6 -1.7 L54.8 -2.3 L56.6 -4.1 L56.6 8.5 M56 -3.5 L56 8.5 M53.6 8.5 L59 8.5 M67.4 -4.1 L65.6 -3.5 L64.4 -1.7 L63.8 1.3 L63.8 3.1 L64.4 6.1 L65.6 7.9 L67.4 8.5 L68.6 8.5 L70.4 7.9 L71.6 6.1 L72.2 3.1 L72.2 1.3 L71.6 -1.7 L70.4 -3.5 L68.6 -4.1 L67.4 -4.1 M67.4 -4.1 L66.2 -3.5 L65.6 -2.9 L65 -1.7 L64.4 1.3 L64.4 3.1 L65 6.1 L65.6 7.3 L66.2 7.9 L67.4 8.5 M68.6 8.5 L69.8 7.9 L70.4 7.3 L71 6.1 L71.6 3.1 L71.6 1.3 L71 -1.7 L70.4 -2.9 L69.8 -3.5 L68.6 -4.1 M85 -25 L83 -23.06 L81 -20.15 L79 -16.27 L78 -11.42 L78 -7.54 L79 -2.69 L81 1.19 L83 4.1 L85 6.04 M83 -23.06 L81 -19.18 L80 -16.27 L79 -11.42 L79 -7.54 L80 -2.69 L81 0.22 L83 4.1 M93 -21 L93 0 M94 -21 L94 0 M90 -21 L97 -21 M90 0 L105 0 L105 -6 L104 0 M126 -25 L108 6.04 M133 -21 L133 0 M134 -21 L134 0 M130 -21 L137 -21 M130 0 L145 0 L145 -6 L144 0 M150.8 -2.6 L150.8 3.4 M148.3 -1.1 L153.3 1.9 M153.3 -1.1 L148.3 1.9 M158.6 -25 L160.6 -23.06 L162.6 -20.15 L164.6 -16.27 L165.6 -11.42 L165.6 -7.54 L164.6 -2.69 L162.6 1.19 L160.6 4.1 L158.6 6.04 M160.6 -23.06 L162.6 -19.18 L163.6 -16.27 L164.6 -11.42 L164.6 -7.54 L163.6 -2.69 L162.6 0.22 L160.6 4.1" fill="none" stroke="#000" stroke-width="1.43" stroke-linecap="round" stroke-linejoin="round"/></g>
<g transform="translate(26.3 209) rotate(-90) scale(0.79 0.81) translate(-120.3 0)"><path d="M15 -21 L15 0 M16 -21 L16 0 M15 -11 L13 -13 L11 -14 L9 -14 L6 -13 L4 -11 L3 -8 L3 -6 L4 -3 L6 -1 L9 0 L11 0 L13 -1 L15 -3 M9 -14 L7 -13 L5 -11 L4 -8 L4 -6 L5 -3 L7 -1 L9 0 M12 -21 L16 -21 M15 0 L19 0 M26 -21 L26 0 M27 -21 L27 0 M23 -21 L27 -21 M23 0 L30 0 M41 -14 L38 -13 L36 -11 L35 -8 L35 -6 L36 -3 L38 -1 L41 0 L43 0 L46 -1 L48 -3 L49 -6 L49 -8 L48 -11 L46 -13 L43 -14 L41 -14 M41 -14 L39 -13 L37 -11 L36 -8 L36 -6 L37 -3 L39 -1 L41 0 M43 0 L45 -1 L47 -3 L48 -6 L48 -8 L47 -11 L45 -13 L43 -14 M60 -14 L58 -13 L57 -12 L56 -10 L56 -8 L57 -6 L58 -5 L60 -4 L62 -4 L64 -5 L65 -6 L66 -8 L66 -10 L65 -12 L64 -13 L62 -14 L60 -14 M58 -13 L57 -11 L57 -7 L58 -5 M64 -5 L65 -7 L65 -11 L64 -13 M65 -12 L66 -13 L68 -14 L68 -13 L66 -13 M57 -6 L56 -5 L55 -3 L55 -2 L56 0 L59 1 L64 1 L67 2 L68 3 M55 -2 L56 -1 L59 0 L64 0 L67 1 L68 3 L68 4 L67 6 L64 7 L58 7 L55 6 L54 4 L54 3 L55 1 L58 0 M81 -21 L78 -20 L76 -18 L75 -16 L74 -12 L74 -9 L75 -5 L76 -3 L78 -1 L81 0 L83 0 L86 -1 L88 -3 L89 -5 L90 -9 L90 -12 L89 -16 L88 -18 L86 -20 L83 -21 L81 -21 M81 -21 L79 -20 L77 -18 L76 -16 L75 -12 L75 -9 L76 -5 L77 -3 L79 -1 L81 0 M83 0 L85 -1 L87 -3 L88 -5 L89 -9 L89 -12 L88 -16 L87 -18 L85 -20 L83 -21 M78 -2 L78 -3 L79 -5 L81 -6 L82 -6 L84 -5 L85 -3 L86 4 L87 5 L89 5 L90 3 L90 2 M85 -3 L86 1 L87 3 L88 4 L89 4 L90 3 M96 -4.1 L96 8.5 M96.6 -4.1 L96.6 8.5 M100.2 -0.5 L100.2 4.3 M94.2 -4.1 L103.8 -4.1 L103.8 -0.5 L103.2 -4.1 M96.6 1.9 L100.2 1.9 M94.2 8.5 L103.8 8.5 L103.8 4.9 L103.2 8.5 M125.6 -25 L107.6 6.04 M142.6 -21 L142.6 0 M143.6 -21 L143.6 0 M142.6 -11 L140.6 -13 L138.6 -14 L136.6 -14 L133.6 -13 L131.6 -11 L130.6 -8 L130.6 -6 L131.6 -3 L133.6 -1 L136.6 0 L138.6 0 L140.6 -1 L142.6 -3 M136.6 -14 L134.6 -13 L132.6 -11 L131.6 -8 L131.6 -6 L132.6 -3 L134.6 -1 L136.6 0 M139.6 -21 L143.6 -21 M142.6 0 L146.6 0 M153.6 -21 L153.6 0 M154.6 -21 L154.6 0 M150.6 -21 L154.6 -21 M150.6 0 L157.6 0 M168.6 -14 L165.6 -13 L163.6 -11 L162.6 -8 L162.6 -6 L163.6 -3 L165.6 -1 L168.6 0 L170.6 0 L173.6 -1 L175.6 -3 L176.6 -6 L176.6 -8 L175.6 -11 L173.6 -13 L170.6 -14 L168.6 -14 M168.6 -14 L166.6 -13 L164.6 -11 L163.6 -8 L163.6 -6 L164.6 -3 L166.6 -1 L168.6 0 M170.6 0 L172.6 -1 L174.6 -3 L175.6 -6 L175.6 -8 L174.6 -11 L172.6 -13 L170.6 -14 M187.6 -14 L185.6 -13 L184.6 -12 L183.6 -10 L183.6 -8 L184.6 -6 L185.6 -5 L187.6 -4 L189.6 -4 L191.6 -5 L192.6 -6 L193.6 -8 L193.6 -10 L192.6 -12 L191.6 -13 L189.6 -14 L187.6 -14 M185.6 -13 L184.6 -11 L184.6 -7 L185.6 -5 M191.6 -5 L192.6 -7 L192.6 -11 L191.6 -13 M192.6 -12 L193.6 -13 L195.6 -14 L195.6 -13 L193.6 -13 M184.6 -6 L183.6 -5 L182.6 -3 L182.6 -2 L183.6 0 L186.6 1 L191.6 1 L194.6 2 L195.6 3 M182.6 -2 L183.6 -1 L186.6 0 L191.6 0 L194.6 1 L195.6 3 L195.6 4 L194.6 6 L191.6 7 L185.6 7 L182.6 6 L181.6 4 L181.6 3 L182.6 1 L185.6 0 M202.2 -1.7 L203.4 -2.3 L205.2 -4.1 L205.2 8.5 M204.6 -3.5 L204.6 8.5 M202.2 8.5 L207.6 8.5 M216 -4.1 L214.2 -3.5 L213 -1.7 L212.4 1.3 L212.4 3.1 L213 6.1 L214.2 7.9 L216 8.5 L217.2 8.5 L219 7.9 L220.2 6.1 L220.8 3.1 L220.8 1.3 L220.2 -1.7 L219 -3.5 L217.2 -4.1 L216 -4.1 M216 -4.1 L214.8 -3.5 L214.2 -2.9 L213.6 -1.7 L213 1.3 L213 3.1 L213.6 6.1 L214.2 7.3 L214.8 7.9 L216 8.5 M217.2 8.5 L218.4 7.9 L219 7.3 L219.6 6.1 L220.2 3.1 L220.2 1.3 L219.6 -1.7 L219 -2.9 L218.4 -3.5 L217.2 -4.1 M227.6 -21 L227.6 0 M228.6 -21 L228.6 0 M224.6 -21 L231.6 -21 M224.6 0 L239.6 0 L239.6 -6 L238.6 0" fill="none" stroke="#000" stroke-width="1.43" stroke-linecap="round" stroke-linejoin="round"/><circle cx="80.3" cy="-26.9" r="1.45" fill="#000"/></g>
<g transform="translate(236.7 311.4) scale(0.4 0.4) translate(-23 0)"><path d="M4 -9 L22 -9 M38 -19 L38 0 M39 -21 L39 0 M39 -21 L28 -6 L44 -6 M35 0 L42 0" fill="none" stroke="#000" stroke-width="2.93" stroke-linecap="round" stroke-linejoin="round"/></g>
<g transform="translate(174.6 245.7) scale(0.4 0.4) translate(-46 0)"><path d="M4 -9 L22 -9 M38 -19 L38 0 M39 -21 L39 0 M39 -21 L28 -6 L44 -6 M35 0 L42 0" fill="none" stroke="#000" stroke-width="2.93" stroke-linecap="round" stroke-linejoin="round"/></g>
<g transform="translate(308.7 311.4) scale(0.4 0.4) translate(-23 0)"><path d="M4 -9 L22 -9 M30 -17 L31 -16 L30 -15 L29 -16 L29 -17 L30 -19 L31 -20 L34 -21 L38 -21 L41 -20 L42 -19 L43 -17 L43 -15 L42 -13 L39 -11 L34 -9 L32 -8 L30 -6 L29 -3 L29 0 M38 -21 L40 -20 L41 -19 L42 -17 L42 -15 L41 -13 L38 -11 L34 -9 M29 -2 L30 -3 L32 -3 L37 -1 L40 -1 L42 -2 L43 -3 M32 -3 L37 0 L41 0 L42 -1 L43 -3 L43 -5" fill="none" stroke="#000" stroke-width="2.93" stroke-linecap="round" stroke-linejoin="round"/></g>
<g transform="translate(174.6 173.7) scale(0.4 0.4) translate(-46 0)"><path d="M4 -9 L22 -9 M30 -17 L31 -16 L30 -15 L29 -16 L29 -17 L30 -19 L31 -20 L34 -21 L38 -21 L41 -20 L42 -19 L43 -17 L43 -15 L42 -13 L39 -11 L34 -9 L32 -8 L30 -6 L29 -3 L29 0 M38 -21 L40 -20 L41 -19 L42 -17 L42 -15 L41 -13 L38 -11 L34 -9 M29 -2 L30 -3 L32 -3 L37 -1 L40 -1 L42 -2 L43 -3 M32 -3 L37 0 L41 0 L42 -1 L43 -3 L43 -5" fill="none" stroke="#000" stroke-width="2.93" stroke-linecap="round" stroke-linejoin="round"/></g>
<g transform="translate(380.7 311.4) scale(0.4 0.4) translate(-10 0)"><path d="M9 -21 L6 -20 L4 -17 L3 -12 L3 -9 L4 -4 L6 -1 L9 0 L11 0 L14 -1 L16 -4 L17 -9 L17 -12 L16 -17 L14 -20 L11 -21 L9 -21 M9 -21 L7 -20 L6 -19 L5 -17 L4 -12 L4 -9 L5 -4 L6 -2 L7 -1 L9 0 M11 0 L13 -1 L14 -2 L15 -4 L16 -9 L16 -12 L15 -17 L14 -19 L13 -20 L11 -21" fill="none" stroke="#000" stroke-width="2.93" stroke-linecap="round" stroke-linejoin="round"/></g>
<g transform="translate(174.6 101.7) scale(0.4 0.4) translate(-20 0)"><path d="M9 -21 L6 -20 L4 -17 L3 -12 L3 -9 L4 -4 L6 -1 L9 0 L11 0 L14 -1 L16 -4 L17 -9 L17 -12 L16 -17 L14 -20 L11 -21 L9 -21 M9 -21 L7 -20 L6 -19 L5 -17 L4 -12 L4 -9 L5 -4 L6 -2 L7 -1 L9 0 M11 0 L13 -1 L14 -2 L15 -4 L16 -9 L16 -12 L15 -17 L14 -19 L13 -20 L11 -21" fill="none" stroke="#000" stroke-width="2.93" stroke-linecap="round" stroke-linejoin="round"/></g>
<g transform="translate(290.6 328.8) scale(0.4 0.4) translate(-84.8 0)"><path d="M5 -21 L5 0 M6 -21 L6 0 M2 -21 L6 -21 M2 0 L9 0 M20 -14 L17 -13 L15 -11 L14 -8 L14 -6 L15 -3 L17 -1 L20 0 L22 0 L25 -1 L27 -3 L28 -6 L28 -8 L27 -11 L25 -13 L22 -14 L20 -14 M20 -14 L18 -13 L16 -11 L15 -8 L15 -6 L16 -3 L18 -1 L20 0 M22 0 L24 -1 L26 -3 L27 -6 L27 -8 L26 -11 L24 -13 L22 -14 M39 -14 L37 -13 L36 -12 L35 -10 L35 -8 L36 -6 L37 -5 L39 -4 L41 -4 L43 -5 L44 -6 L45 -8 L45 -10 L44 -12 L43 -13 L41 -14 L39 -14 M37 -13 L36 -11 L36 -7 L37 -5 M43 -5 L44 -7 L44 -11 L43 -13 M44 -12 L45 -13 L47 -14 L47 -13 L45 -13 M36 -6 L35 -5 L34 -3 L34 -2 L35 0 L38 1 L43 1 L46 2 L47 3 M34 -2 L35 -1 L38 0 L43 0 L46 1 L47 3 L47 4 L46 6 L43 7 L37 7 L34 6 L33 4 L33 3 L34 1 L37 0 M53.6 -1.7 L54.8 -2.3 L56.6 -4.1 L56.6 8.5 M56 -3.5 L56 8.5 M53.6 8.5 L59 8.5 M67.4 -4.1 L65.6 -3.5 L64.4 -1.7 L63.8 1.3 L63.8 3.1 L64.4 6.1 L65.6 7.9 L67.4 8.5 L68.6 8.5 L70.4 7.9 L71.6 6.1 L72.2 3.1 L72.2 1.3 L71.6 -1.7 L70.4 -3.5 L68.6 -4.1 L67.4 -4.1 M67.4 -4.1 L66.2 -3.5 L65.6 -2.9 L65 -1.7 L64.4 1.3 L64.4 3.1 L65 6.1 L65.6 7.3 L66.2 7.9 L67.4 8.5 M68.6 8.5 L69.8 7.9 L70.4 7.3 L71 6.1 L71.6 3.1 L71.6 1.3 L71 -1.7 L70.4 -2.9 L69.8 -3.5 L68.6 -4.1 M85 -25 L83 -23.06 L81 -20.15 L79 -16.27 L78 -11.42 L78 -7.54 L79 -2.69 L81 1.19 L83 4.1 L85 6.04 M83 -23.06 L81 -19.18 L80 -16.27 L79 -11.42 L79 -7.54 L80 -2.69 L81 0.22 L83 4.1 M93 -21 L93 0 M94 -21 L94 0 M90 -21 L97 -21 M90 0 L105 0 L105 -6 L104 0 M126 -25 L108 6.04 M133 -21 L133 0 M134 -21 L134 0 M130 -21 L137 -21 M130 0 L145 0 L145 -6 L144 0 M150.8 -2.6 L150.8 3.4 M148.3 -1.1 L153.3 1.9 M153.3 -1.1 L148.3 1.9 M158.6 -25 L160.6 -23.06 L162.6 -20.15 L164.6 -16.27 L165.6 -11.42 L165.6 -7.54 L164.6 -2.69 L162.6 1.19 L160.6 4.1 L158.6 6.04 M160.6 -23.06 L162.6 -19.18 L163.6 -16.27 L164.6 -11.42 L164.6 -7.54 L163.6 -2.69 L162.6 0.22 L160.6 4.1" fill="none" stroke="#000" stroke-width="2.93" stroke-linecap="round" stroke-linejoin="round"/></g>
<g transform="translate(146.2 187) rotate(-90) scale(0.4 0.4) translate(-111.6 0)"><path d="M5 -21 L5 0 M6 -21 L6 0 M2 -21 L6 -21 M2 0 L9 0 M20 -14 L17 -13 L15 -11 L14 -8 L14 -6 L15 -3 L17 -1 L20 0 L22 0 L25 -1 L27 -3 L28 -6 L28 -8 L27 -11 L25 -13 L22 -14 L20 -14 M20 -14 L18 -13 L16 -11 L15 -8 L15 -6 L16 -3 L18 -1 L20 0 M22 0 L24 -1 L26 -3 L27 -6 L27 -8 L26 -11 L24 -13 L22 -14 M39 -14 L37 -13 L36 -12 L35 -10 L35 -8 L36 -6 L37 -5 L39 -4 L41 -4 L43 -5 L44 -6 L45 -8 L45 -10 L44 -12 L43 -13 L41 -14 L39 -14 M37 -13 L36 -11 L36 -7 L37 -5 M43 -5 L44 -7 L44 -11 L43 -13 M44 -12 L45 -13 L47 -14 L47 -13 L45 -13 M36 -6 L35 -5 L34 -3 L34 -2 L35 0 L38 1 L43 1 L46 2 L47 3 M34 -2 L35 -1 L38 0 L43 0 L46 1 L47 3 L47 4 L46 6 L43 7 L37 7 L34 6 L33 4 L33 3 L34 1 L37 0 M53.6 -1.7 L54.8 -2.3 L56.6 -4.1 L56.6 8.5 M56 -3.5 L56 8.5 M53.6 8.5 L59 8.5 M67.4 -4.1 L65.6 -3.5 L64.4 -1.7 L63.8 1.3 L63.8 3.1 L64.4 6.1 L65.6 7.9 L67.4 8.5 L68.6 8.5 L70.4 7.9 L71.6 6.1 L72.2 3.1 L72.2 1.3 L71.6 -1.7 L70.4 -3.5 L68.6 -4.1 L67.4 -4.1 M67.4 -4.1 L66.2 -3.5 L65.6 -2.9 L65 -1.7 L64.4 1.3 L64.4 3.1 L65 6.1 L65.6 7.3 L66.2 7.9 L67.4 8.5 M68.6 8.5 L69.8 7.9 L70.4 7.3 L71 6.1 L71.6 3.1 L71.6 1.3 L71 -1.7 L70.4 -2.9 L69.8 -3.5 L68.6 -4.1 M85 -25 L83 -23.06 L81 -20.15 L79 -16.27 L78 -11.42 L78 -7.54 L79 -2.69 L81 1.19 L83 4.1 L85 6.04 M83 -23.06 L81 -19.18 L80 -16.27 L79 -11.42 L79 -7.54 L80 -2.69 L81 0.22 L83 4.1 M93 -21 L93 0 M94 -21 L94 0 M90 -21 L97 -21 M90 0 L105 0 L105 -6 L104 0 M120 -21 L114 7 M121 -21 L113 7 M116 -14 L112 -13 L110 -11 L109 -8 L109 -5 L110 -3 L112 -1 L115 0 L118 0 L122 -1 L124 -3 L125 -6 L125 -9 L124 -11 L122 -13 L119 -14 L116 -14 M116 -14 L113 -13 L111 -11 L110 -8 L110 -5 L111 -3 L113 -1 L115 0 M118 0 L121 -1 L123 -3 L124 -6 L124 -9 L123 -11 L121 -13 L119 -14 M148 -25 L130 6.04 M155 -21 L155 0 M156 -21 L156 0 M152 -21 L159 -21 M152 0 L167 0 L167 -6 L166 0 M172.8 -2.6 L172.8 3.4 M170.3 -1.1 L175.3 1.9 M175.3 -1.1 L170.3 1.9 M191.6 -21 L185.6 7 M192.6 -21 L184.6 7 M187.6 -14 L183.6 -13 L181.6 -11 L180.6 -8 L180.6 -5 L181.6 -3 L183.6 -1 L186.6 0 L189.6 0 L193.6 -1 L195.6 -3 L196.6 -6 L196.6 -9 L195.6 -11 L193.6 -13 L190.6 -14 L187.6 -14 M187.6 -14 L184.6 -13 L182.6 -11 L181.6 -8 L181.6 -5 L182.6 -3 L184.6 -1 L186.6 0 M189.6 0 L192.6 -1 L194.6 -3 L195.6 -6 L195.6 -9 L194.6 -11 L192.6 -13 L190.6 -14 M204.4 -2.6 L204.4 3.4 M201.9 -1.1 L206.9 1.9 M206.9 -1.1 L201.9 1.9 M212.2 -25 L214.2 -23.06 L216.2 -20.15 L218.2 -16.27 L219.2 -11.42 L219.2 -7.54 L218.2 -2.69 L216.2 1.19 L214.2 4.1 L212.2 6.04 M214.2 -23.06 L216.2 -19.18 L217.2 -16.27 L218.2 -11.42 L218.2 -7.54 L217.2 -2.69 L216.2 0.22 L214.2 4.1" fill="none" stroke="#000" stroke-width="2.93" stroke-linecap="round" stroke-linejoin="round"/></g>
</svg>
</body></html>
